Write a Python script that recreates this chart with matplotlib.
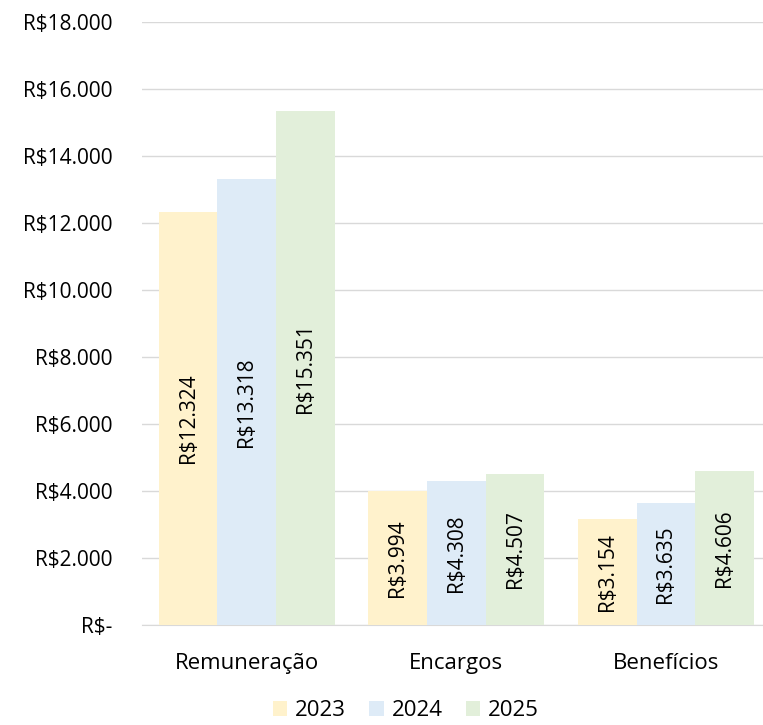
import numpy as np
import matplotlib.pyplot as plt
from matplotlib.ticker import FuncFormatter

plt.rcParams['font.family'] = ['Open Sans', 'DejaVu Sans']

categories = ['Remuneração', 'Encargos', 'Benefícios']
years = ['2023', '2024', '2025']
values_2023 = [12324, 3994, 3154]
values_2024 = [13318, 4308, 3635]
values_2025 = [15351, 4507, 4606]
colors = ['#FFF2CC', '#DEEBF7', '#E2EFDA']


def brl(v, pos=None):
    if v == 0:
        return 'R$-'
    return 'R$' + f'{v:,.0f}'.replace(',', '.')


fig = plt.figure(figsize=(7.63, 7.25), dpi=100)
ax = fig.add_axes([142 / 763, 100 / 725, (763 - 142) / 763, 603 / 725])

x = np.arange(len(categories))
width = 0.28
series = [values_2023, values_2024, values_2025]
for i, (vals, year, col) in enumerate(zip(series, years, colors)):
    pos = x + (i - 1) * width
    bars = ax.bar(pos, vals, width, color=col, label=year, zorder=2)
    for b, v in zip(bars, vals):
        ax.text(b.get_x() + b.get_width() / 2, v / 2, brl(v), rotation=90,
                ha='center', va='center', fontsize=15, color='black', zorder=3)

ax.set_ylim(0, 18000)
ax.set_yticks(np.arange(0, 18001, 2000))
ax.yaxis.set_major_formatter(FuncFormatter(brl))
ax.set_xlim(-0.5, (763 - 247) / 209.5)
ax.set_xticks(x)
ax.set_xticklabels(categories, fontsize=16)
ax.tick_params(axis='y', labelsize=15, length=0, pad=21)
ax.tick_params(axis='x', length=0, pad=20)
ax.grid(axis='y', color='#D9D9D9', linewidth=1, zorder=0)
for s in ['top', 'right', 'left']:
    ax.spines[s].set_visible(False)
ax.spines['bottom'].set_color('#D9D9D9')
ax.spines['bottom'].set_zorder(1)

fig.legend(loc='lower center', bbox_to_anchor=(0.532, -0.022), ncol=3, frameon=False,
           fontsize=16, handlelength=0.65, handleheight=0.65, handletextpad=0.35,
           columnspacing=1.05)

fig.savefig('out.png', dpi=100)
